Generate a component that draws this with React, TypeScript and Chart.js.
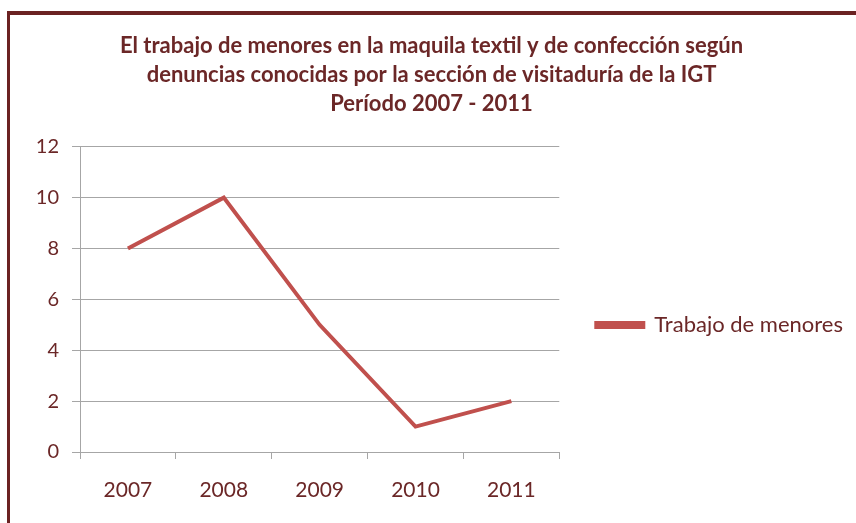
import React, { useEffect, useRef } from "react";
import { Chart, registerables } from "chart.js";

Chart.register(...registerables);

const categories = ["2007", "2008", "2009", "2010", "2011"];
const seriesLabel = "Trabajo de menores";
const seriesValues = [8, 10, 5, 1, 2];
const titleLines = [
  "El trabajo de menores en la maquila textil y de confección según",
  "denuncias conocidas por la sección de visitaduría de la IGT",
  "Período 2007 - 2011",
];

const TEXT = "#6b2727";
const LINE = "#c0504d";
const GRID = "#a6a6a6";
const FONT = "Lato, 'Open Sans', sans-serif";

export default function App() {
  const ref = useRef<HTMLCanvasElement | null>(null);

  useEffect(() => {
    if (!ref.current) return;
    const chart = new Chart(ref.current, {
      type: "line",
      data: {
        labels: categories,
        datasets: [
          {
            label: seriesLabel,
            data: seriesValues,
            borderColor: LINE,
            backgroundColor: LINE,
            borderWidth: 4,
            pointRadius: 0,
            tension: 0,
          },
        ],
      },
      options: {
        responsive: false,
        animation: false,
        layout: { padding: { right: 3, bottom: 0 } },
        plugins: {
          title: {
            display: true,
            text: titleLines,
            color: TEXT,
            font: { family: FONT, size: 22, weight: "bold", lineHeight: 1.3 },
            padding: { top: 17, bottom: 29 },
          },
          legend: {
            display: true,
            position: "right",
            align: "center",
            maxWidth: 297,
            title: {
              display: true,
              text: " ",
              font: { size: 10, lineHeight: 1.2 },
              padding: { top: 100, bottom: 0 },
            },
            labels: {
              boxWidth: 47,
              boxHeight: 4,
              padding: 37,
              color: TEXT,
              font: { family: FONT, size: 22 },
            },
          },
          tooltip: { enabled: false },
        },
        scales: {
          x: {
            type: "category",
            offset: true,
            afterFit: (s: any) => {
              s.height = 71;
            },
            grid: {
              display: true,
              offset: true,
              drawOnChartArea: false,
              drawTicks: true,
              tickLength: 7,
              color: GRID,
            },
            border: { display: true, color: GRID, width: 1 },
            ticks: {
              color: TEXT,
              padding: 19,
              font: { family: FONT, size: 21 },
            },
          },
          y: {
            min: 0,
            max: 12,
            afterFit: (s: any) => {
              s.width = 70;
            },
            ticks: {
              stepSize: 2,
              color: TEXT,
              padding: 13,
              font: { family: FONT, size: 20 },
            },
            grid: {
              display: true,
              drawTicks: true,
              tickLength: 8,
              color: GRID,
              lineWidth: 1,
            },
            border: { display: true, color: GRID, width: 1 },
          },
        },
      },
    });
    return () => chart.destroy();
  }, []);

  return (
    <div
      style={{
        position: "fixed",
        left: 7,
        top: 11,
        width: 849,
        height: 520,
        borderTop: "4px solid #6b2222",
        borderLeft: "3px solid #6b2222",
        background: "#fff",
      }}
    >
      <canvas ref={ref} width={846} height={508} style={{ display: "block" }} />
    </div>
  );
}
